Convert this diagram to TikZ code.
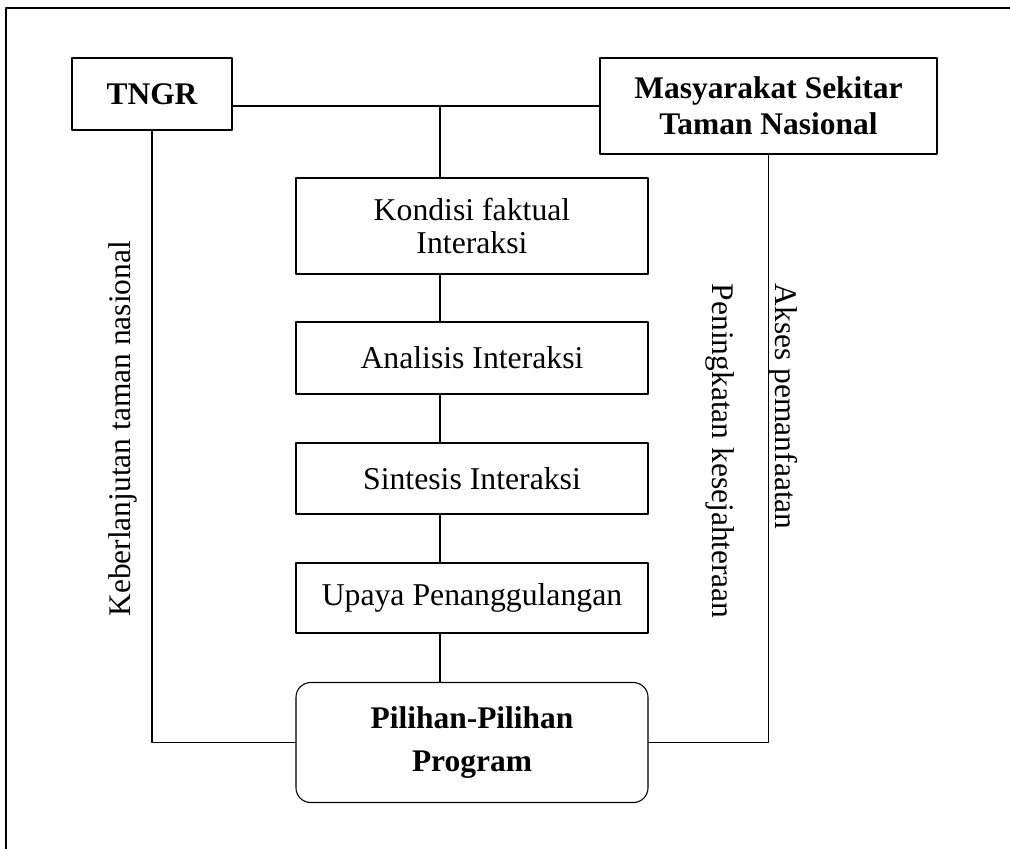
\documentclass[tikz,border=0pt]{standalone}
\usepackage{fontspec}
\setmainfont{Liberation Serif}
\usepackage{tikz}
\usetikzlibrary{positioning, calc}

\tikzset{
  kotak/.style={draw, thick, fill=white, inner sep=0pt, align=center,
    font=\fontsize{23.8}{25}\selectfont},
  kotakbold/.style={kotak, font=\fontsize{23.6}{27}\selectfont\bfseries},
  label/.style={inner sep=0pt, font=\fontsize{23.6}{25}\selectfont}
}

\begin{document}
\begin{tikzpicture}[x=0.75pt, y=-0.75pt, line width=1.4pt, line cap=round, line join=round]
			\useasboundingbox (0,0) rectangle (1010,849);

			% -- Outer frame --
			\draw (6,849) -- (6,8) -- (1010,8);

			% -- Top boxes --
			\node[kotakbold, minimum width=120pt, minimum height=54pt] (tngr) at (152,94) {TNGR};
			\node[kotakbold, minimum width=252.75pt, minimum height=72pt] (masy) at (768.5,106) {Masyarakat Sekitar\\Taman Nasional};

			% -- Middle column (the process) --
			\node[kotak, minimum width=264pt, minimum height=72pt] (kondisi) at (472,226) {Kondisi faktual\\Interaksi};
			\node[kotak, minimum width=264pt, minimum height=54pt] (analisis) at (472,358) {Analisis Interaksi};
			\node[kotak, minimum width=264pt, minimum height=53.25pt] (sintesis) at (472,478.5) {Sintesis Interaksi};
			\node[kotak, minimum width=264pt, minimum height=52.5pt] (upaya) at (472,598) {Upaya Penanggulangan};

			% Pilihan program (rounded)
			\node[kotakbold, rounded corners=11pt, minimum width=264pt, minimum height=90pt,
			      font=\fontsize{23.6}{32}\selectfont\bfseries] (pilihan) at (472,742.5) {Pilihan-Pilihan\\Program};

			% -- Connectors --
			\coordinate (atas) at (440,106);
			\draw (tngr.east |- masy.west) -- (masy.west);
			\draw (atas) -- (atas |- kondisi.north);
			\foreach \a/\b in {kondisi/analisis, analisis/sintesis, sintesis/upaya, upaya/pilihan}
				\draw (atas |- \a.south) -- (atas |- \b.north);
			\draw (tngr.south) |- (pilihan.west);
			\draw (masy.south) |- (pilihan.east);

			% -- Side labels --
			\node[label, rotate=90, anchor=east] (lestari) at (123,240) {Keberlanjutan taman nasional};
			\node[label, rotate=-90, anchor=west] (sejahtera) at (720,283) {Peningkatan kesejahteraan};
			\node[label, rotate=-90, anchor=west] (akses) at (783,283) {Akses pemanfaatan};

		\end{tikzpicture}
\end{document}
